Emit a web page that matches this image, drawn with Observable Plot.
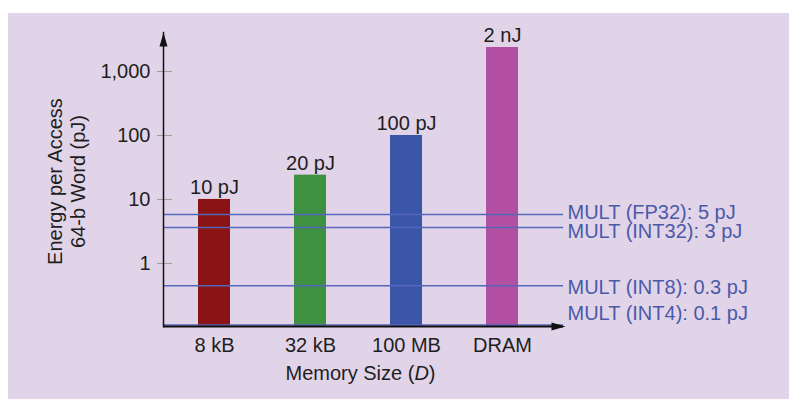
<!DOCTYPE html>
<html>
<head>
<meta charset="utf-8">
<script src="https://cdn.jsdelivr.net/npm/d3@7"></script>
<script src="https://cdn.jsdelivr.net/npm/@observablehq/plot@0.6"></script>
<style>
  html, body { margin: 0; padding: 0; background: #ffffff; }
  #wrap { position: relative; width: 789px; height: 408px; overflow: hidden; }
  #bg { position: absolute; left: 8px; top: 13px; width: 781px; height: 386px; background: #e2d4e8; }
  #chart { position: absolute; left: 0; top: 0; }
</style>
</head>
<body>
<div id="wrap"><div id="bg"></div><div id="chart"></div></div>
<script>
// ---- data ----
const categories = ["8 kB", "32 kB", "100 MB", "DRAM"];
const energies = [10, 24, 100, 2370];           // pJ, bar heights
const barLabels = ["10 pJ", "20 pJ", "100 pJ", "2 nJ"];

const multKeys = ["FP32", "INT32", "INT8", "INT4"];
const multLabels = ["MULT (FP32): 5 pJ", "MULT (INT32): 3 pJ", "MULT (INT8): 0.3 pJ", "MULT (INT4): 0.1 pJ"];
const multValues = [5.8, 3.65, 0.45, 0.109];    // pJ, line positions

const yTicks = [1, 10, 100, 1000];

// ---- styles / layout ----
const barColors = {"8 kB": "#8a1414", "32 kB": "#3e9140", "100 MB": "#3b55a8", "DRAM": "#b24fa2"};
const labelNudge = {FP32: -2.5, INT32: 4.5, INT8: 1.5, INT4: -11};
const lineColor = "#5667bb";
const labelColor = "#4a5aa9";
const ink = "#1e1e1e";
const font = "'Liberation Sans', Arial, Helvetica, sans-serif";

const bars = categories.map((name, i) => ({name, value: energies[i], label: barLabels[i]}));
const mults = multKeys.map((key, i) => ({key, label: multLabels[i], value: multValues[i]}));

const yMin = 0.1035, yMax = 4065;

const arrowUp = {draw(ctx) { ctx.moveTo(0, 0); ctx.lineTo(-4, 14); ctx.lineTo(4, 14); ctx.closePath(); }};
const arrowRight = {draw(ctx) { ctx.moveTo(0, 0); ctx.lineTo(-14, -4); ctx.lineTo(-14, 4); ctx.closePath(); }};

const chart = Plot.plot({
  width: 789,
  height: 408,
  marginLeft: 163,
  marginRight: 226,
  marginTop: 32,
  marginBottom: 82,
  style: {background: "transparent", fontFamily: font, fontSize: "20px", color: ink},
  x: {domain: categories, paddingInner: 0.67, paddingOuter: 0.397, align: 0.44, axis: null, label: null},
  y: {type: "log", domain: [yMin, yMax], axis: null, label: null},
  marks: [
    Plot.barY(bars, {x: "name", y1: yMin, y2: "value", fill: d => barColors[d.name]}),
    Plot.ruleY(mults, {y: "value", stroke: lineColor, strokeWidth: 1.5}),
    ...mults.map(m => Plot.text([m], {
      y: "value", text: "label", frameAnchor: "right", textAnchor: "start",
      dx: 4, dy: labelNudge[m.key], fill: labelColor, fontSize: 20
    })),
    Plot.text(bars, {x: "name", y: "value", text: "label", dy: -12, fill: ink, fontSize: 20}),
    // y axis: gray tick marks crossing the axis line, and labels
    Plot.axisY({ticks: yTicks, tickSize: 15, dx: 9, tickFormat: () => "", stroke: "#9a9a9a", label: null}),
    Plot.axisY({ticks: yTicks, tickSize: 0, tickPadding: 13, tickFormat: d3.format(","), fontSize: 20, fill: ink, label: null}),
    Plot.axisX({tickSize: 0, tickPadding: 11, fontSize: 20, fill: ink, label: null}),
    // axis lines with arrowheads
    Plot.frame({anchor: "left", stroke: "#111", strokeWidth: 1.5}),
    Plot.ruleY([yMin], {stroke: "#111", strokeWidth: 2}),
    Plot.dot([0], {frameAnchor: "top-left", symbol: arrowUp, fill: "#111", stroke: null, r: 5}),
    Plot.dot([0], {frameAnchor: "bottom-right", symbol: arrowRight, fill: "#111", stroke: null, r: 5, dx: 2}),
    // titles
    Plot.text(["Energy per Access\n64-b Word (pJ)"], {
      frameAnchor: "left", textAnchor: "middle", lineAnchor: "middle", rotate: -90, dx: -97, dy: 2,
      lineHeight: 1.15, fontSize: 20, fill: ink
    }),
    Plot.text(["Memory Size (D)"], {frameAnchor: "bottom", textAnchor: "middle", dy: 53, dx: -3, fontSize: 20, fill: ink})
  ]
});

document.getElementById("chart").appendChild(chart);

// italic D in the x title
d3.select(chart).selectAll("text")
  .filter(function () { return this.textContent === "Memory Size (D)"; })
  .each(function () {
    const t = d3.select(this);
    t.text(null);
    t.append("tspan").text("Memory Size (");
    t.append("tspan").attr("font-style", "italic").text("D");
    t.append("tspan").text(")");
  });
</script>
</body>
</html>
